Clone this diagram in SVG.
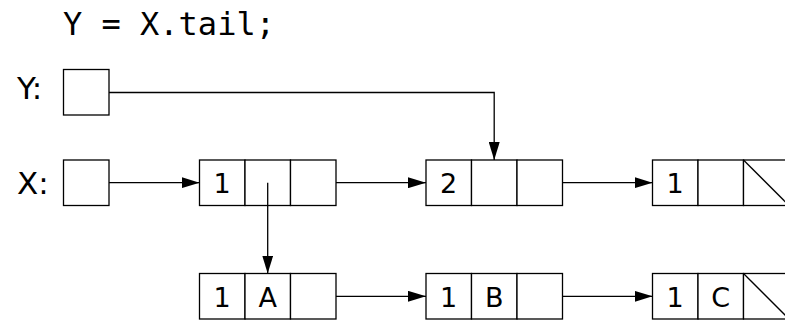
<svg xmlns="http://www.w3.org/2000/svg" width="785" height="320" viewBox="0 0 785 320">
<defs>
<marker id="ah" markerWidth="18" markerHeight="11" refX="18" refY="5.5" orient="auto" markerUnits="userSpaceOnUse">
<path d="M0,0 L18,5.5 L0,11 Z" fill="#000"/>
</marker>
<style>
.box{fill:#fff;stroke:#000;stroke-width:1.3}
.ln{fill:none;stroke:#000;stroke-width:1.3}
.code{font-family:"DejaVu Sans Mono","Liberation Mono",monospace;font-size:32px;fill:#000}
.lbl{font-family:"DejaVu Sans","Liberation Sans",sans-serif;font-size:31px;fill:#000}
.cell{font-family:"DejaVu Sans","Liberation Sans",sans-serif;font-size:27px;fill:#000;text-anchor:middle}
</style>
</defs>
<rect width="785" height="320" fill="#fff"/>
<text class="code" x="63" y="35" xml:space="preserve">Y = X.tail;</text>

<g id="varY">
<text class="lbl" x="17" y="99">Y:</text>
<rect class="box" x="63.5" y="69.5" width="45.5" height="45.5"/>
</g>
<g id="varX">
<text class="lbl" x="17" y="194">X:</text>
<rect class="box" x="63.5" y="160" width="45.5" height="45.5"/>
</g>

<g id="n1">
<rect class="box" x="199.5" y="160" width="45.5" height="45.5"/>
<rect class="box" x="245" y="160" width="45.5" height="45.5"/>
<rect class="box" x="290.5" y="160" width="45.5" height="45.5"/>
<text class="cell" x="222.2" y="193">1</text>
</g>
<g id="n2">
<rect class="box" x="426" y="160" width="45.5" height="45.5"/>
<rect class="box" x="471.5" y="160" width="45.5" height="45.5"/>
<rect class="box" x="517" y="160" width="45.5" height="45.5"/>
<text class="cell" x="448.7" y="193">2</text>
</g>
<g id="n3">
<rect class="box" x="652.5" y="160" width="45.5" height="45.5"/>
<rect class="box" x="698" y="160" width="45.5" height="45.5"/>
<rect class="box" x="743.5" y="160" width="45.5" height="45.5"/>
<line class="ln" x1="743.5" y1="160" x2="789" y2="205.5"/>
<text class="cell" x="675.2" y="193">1</text>
</g>

<g id="a1">
<rect class="box" x="199.5" y="273.5" width="45.5" height="45.5"/>
<rect class="box" x="245" y="273.5" width="45.5" height="45.5"/>
<rect class="box" x="290.5" y="273.5" width="45.5" height="45.5"/>
<text class="cell" x="222.2" y="306.5">1</text>
<text class="cell" x="267.7" y="306.5">A</text>
</g>
<g id="a2">
<rect class="box" x="426" y="273.5" width="45.5" height="45.5"/>
<rect class="box" x="471.5" y="273.5" width="45.5" height="45.5"/>
<rect class="box" x="517" y="273.5" width="45.5" height="45.5"/>
<text class="cell" x="448.7" y="306.5">1</text>
<text class="cell" x="494.2" y="306.5">B</text>
</g>
<g id="a3">
<rect class="box" x="652.5" y="273.5" width="45.5" height="45.5"/>
<rect class="box" x="698" y="273.5" width="45.5" height="45.5"/>
<rect class="box" x="743.5" y="273.5" width="45.5" height="45.5"/>
<line class="ln" x1="743.5" y1="273.5" x2="789" y2="319"/>
<text class="cell" x="675.2" y="306.5">1</text>
<text class="cell" x="720.7" y="306.5">C</text>
</g>

<g id="connectors">
<polyline class="ln" points="109,92.5 494.2,92.5 494.2,160" marker-end="url(#ah)"/>
<line class="ln" x1="109" y1="182.7" x2="199.5" y2="182.7" marker-end="url(#ah)"/>
<line class="ln" x1="336" y1="182.7" x2="426" y2="182.7" marker-end="url(#ah)"/>
<line class="ln" x1="562.5" y1="182.7" x2="652.5" y2="182.7" marker-end="url(#ah)"/>
<line class="ln" x1="267.7" y1="182.7" x2="267.7" y2="273.5" marker-end="url(#ah)"/>
<line class="ln" x1="336" y1="296.3" x2="426" y2="296.3" marker-end="url(#ah)"/>
<line class="ln" x1="562.5" y1="296.3" x2="652.5" y2="296.3" marker-end="url(#ah)"/>
</g>
</svg>
